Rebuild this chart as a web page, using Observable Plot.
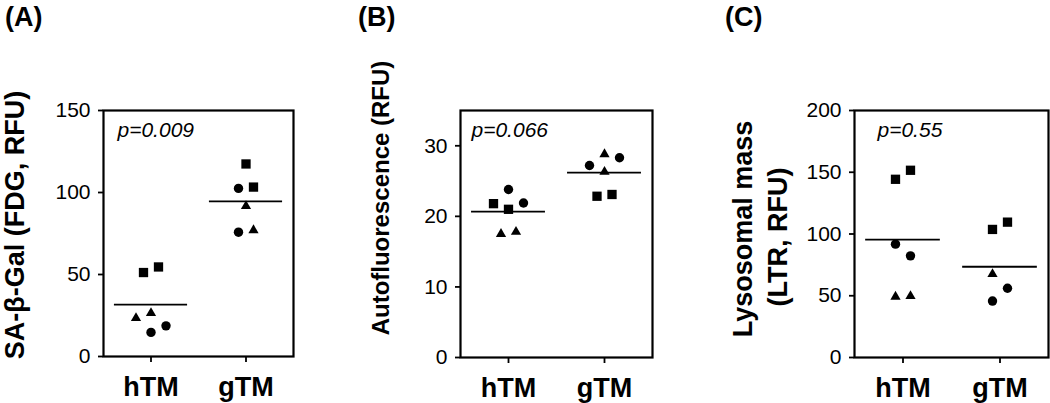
<!DOCTYPE html>
<html><head><meta charset="utf-8">
<script src="https://cdn.jsdelivr.net/npm/d3@7"></script>
<script src="https://cdn.jsdelivr.net/npm/@observablehq/plot@0.6"></script>
<style>
body{margin:0;background:#fff}
#chart{position:relative;width:1050px;height:403px;overflow:hidden;background:#fff}
.panel{position:absolute;top:0}
</style>
</head><body><div id="chart"></div>
<script>
// ---- data ----
const groups = ["hTM", "gTM"];

const aGroup = ["hTM","hTM","hTM","hTM","hTM","hTM","gTM","gTM","gTM","gTM","gTM","gTM"];
const aShape = ["square","square","triangle","triangle","circle","circle","square","square","circle","triangle","circle","triangle"];
const aValue = [51.2,54.6,23.4,26.5,14.7,18.7,117.4,103.3,102.5,91.7,75.8,77.0];
const aSlot  = [-1,1,-2,0,0,2,0,1,-1,0,-1,1];
const aMean  = [31.6,94.6];
const aP = "p=0.009";

const bGroup = ["hTM","hTM","hTM","hTM","hTM","hTM","gTM","gTM","gTM","gTM","gTM","gTM"];
const bShape = ["circle","square","square","circle","triangle","triangle","circle","triangle","circle","triangle","square","square"];
const bValue = [23.8,21.8,21.0,21.9,17.5,17.8,27.2,28.8,28.3,26.3,22.85,23.1];
const bSlot  = [0,-2,0,2,-1,1,-2,0,2,0,-1,1];
const bMean  = [20.66,26.2];
const bP = "p=0.066";

const cGroup = ["hTM","hTM","hTM","hTM","hTM","hTM","gTM","gTM","gTM","gTM","gTM"];
const cShape = ["square","square","circle","circle","triangle","triangle","square","square","triangle","circle","circle"];
const cValue = [144.3,151.6,91.8,82.3,49.2,49.7,103.7,109.6,67.5,56.1,45.7];
const cSlot  = [-1,1,-1,1,-1,1,-1,1,-1,1,-1];
const cMean  = [95.4,73.5];
const cP = "p=0.55";

const aTicks = [0,50,100,150];
const bTicks = [0,10,20,30];
const cTicks = [0,50,100,150,200];

// ---- layout / style ----
const FONT = "'Liberation Sans', Arial, Helvetica, sans-serif";
const panels = [
  {tag:"(A)", tagX:5, left:0, width:300, mL:103, mR:7, mB:47, dom:[0,150], ticks:aTicks,
   g:aGroup, s:aShape, v:aValue, slot:aSlot, mean:aMean, p:aP, pDx:14,
   labels:[{t:"SA-β-Gal (FDG, RFU)", x:24, y:225, fs:27}]},
  {tag:"(B)", tagX:18, left:340, width:320, mL:120, mR:8, mB:46, dom:[0,35], ticks:bTicks,
   g:bGroup, s:bShape, v:bValue, slot:bSlot, mean:bMean, p:bP, pDx:11,
   labels:[{t:"Autofluorescence (RFU)", x:49, y:198, fs:24}]},
  {tag:"(C)", tagX:35, left:690, width:360, mL:164, mR:2, mB:46, dom:[0,200], ticks:cTicks,
   g:cGroup, s:cShape, v:cValue, slot:cSlot, mean:cMean, p:cP, pDx:23,
   labels:[{t:"Lysosomal mass", x:62, y:229, fs:27},{t:"(LTR, RFU)", x:97, y:237, fs:27}]}
];
const shapeR = {square:5.25, circle:4.7, triangle:3.8};
const H = 403, mT = 110;

const root = document.getElementById("chart");
for (const P of panels) {
  const fw = P.width - P.mL - P.mR;
  const step = 15 / fw; // one jitter slot in x units (domain width 2)
  const pts = P.v.map((v, i) => ({
    x: groups.indexOf(P.g[i]) + 1 + P.slot[i] * step,
    y: v, shape: P.s[i]
  }));
  const means = P.mean.map((m, i) => ({g: i + 1, m}));
  const dotMarks = Object.keys(shapeR).map(sh =>
    Plot.dot(pts.filter(d => d.shape === sh), {x:"x", y:"y", symbol: sh, r: shapeR[sh], fill:"black", stroke:"none"}));
  const svg = Plot.plot({
    width: P.width, height: H,
    marginLeft: P.mL, marginRight: P.mR, marginTop: mT, marginBottom: P.mB,
    style: {fontFamily: FONT, color: "black", background: "white", overflow: "visible"},
    x: {domain: [0.5, 2.5]},
    y: {domain: P.dom},
    marks: [
      Plot.axisY({ticks: P.ticks, tickSize: 5, tickPadding: 8, fontSize: 21, strokeWidth: 1.8, label: null}),
      Plot.axisX({ticks: [1, 2], tickFormat: d => groups[d - 1], tickSize: 6, tickPadding: 14,
                  fontSize: 27, fontWeight: "bold", strokeWidth: 1.8, label: null}),
      Plot.frame({stroke: "black", strokeWidth: 2.2}),
      Plot.ruleY(means, {y: "m", x1: d => d.g - 0.385, x2: d => d.g + 0.385, stroke: "black", strokeWidth: 1.8}),
      ...dotMarks,
      Plot.text([P.p], {text: d => d, frameAnchor: "top-left", textAnchor: "start", dx: P.pDx, dy: 12,
                        fontSize: 21, fontStyle: "italic", fill: "black"})
    ]
  });
  svg.classList.add("panel");
  svg.style.left = P.left + "px";
  const sel = d3.select(svg);
  sel.append("text").attr("x", P.tagX).attr("y", 26)
    .attr("text-anchor", "start")
    .attr("font-family", FONT).attr("font-weight", "bold").attr("font-size", 27)
    .attr("fill", "black").text(P.tag);
  for (const L of P.labels) {
    sel.append("text")
      .attr("transform", `translate(${L.x},${L.y}) rotate(-90)`)
      .attr("text-anchor", "middle")
      .attr("font-family", FONT).attr("font-weight", "bold").attr("font-size", L.fs)
      .attr("fill", "black").text(L.t);
  }
  root.appendChild(svg);
}
</script></body></html>
